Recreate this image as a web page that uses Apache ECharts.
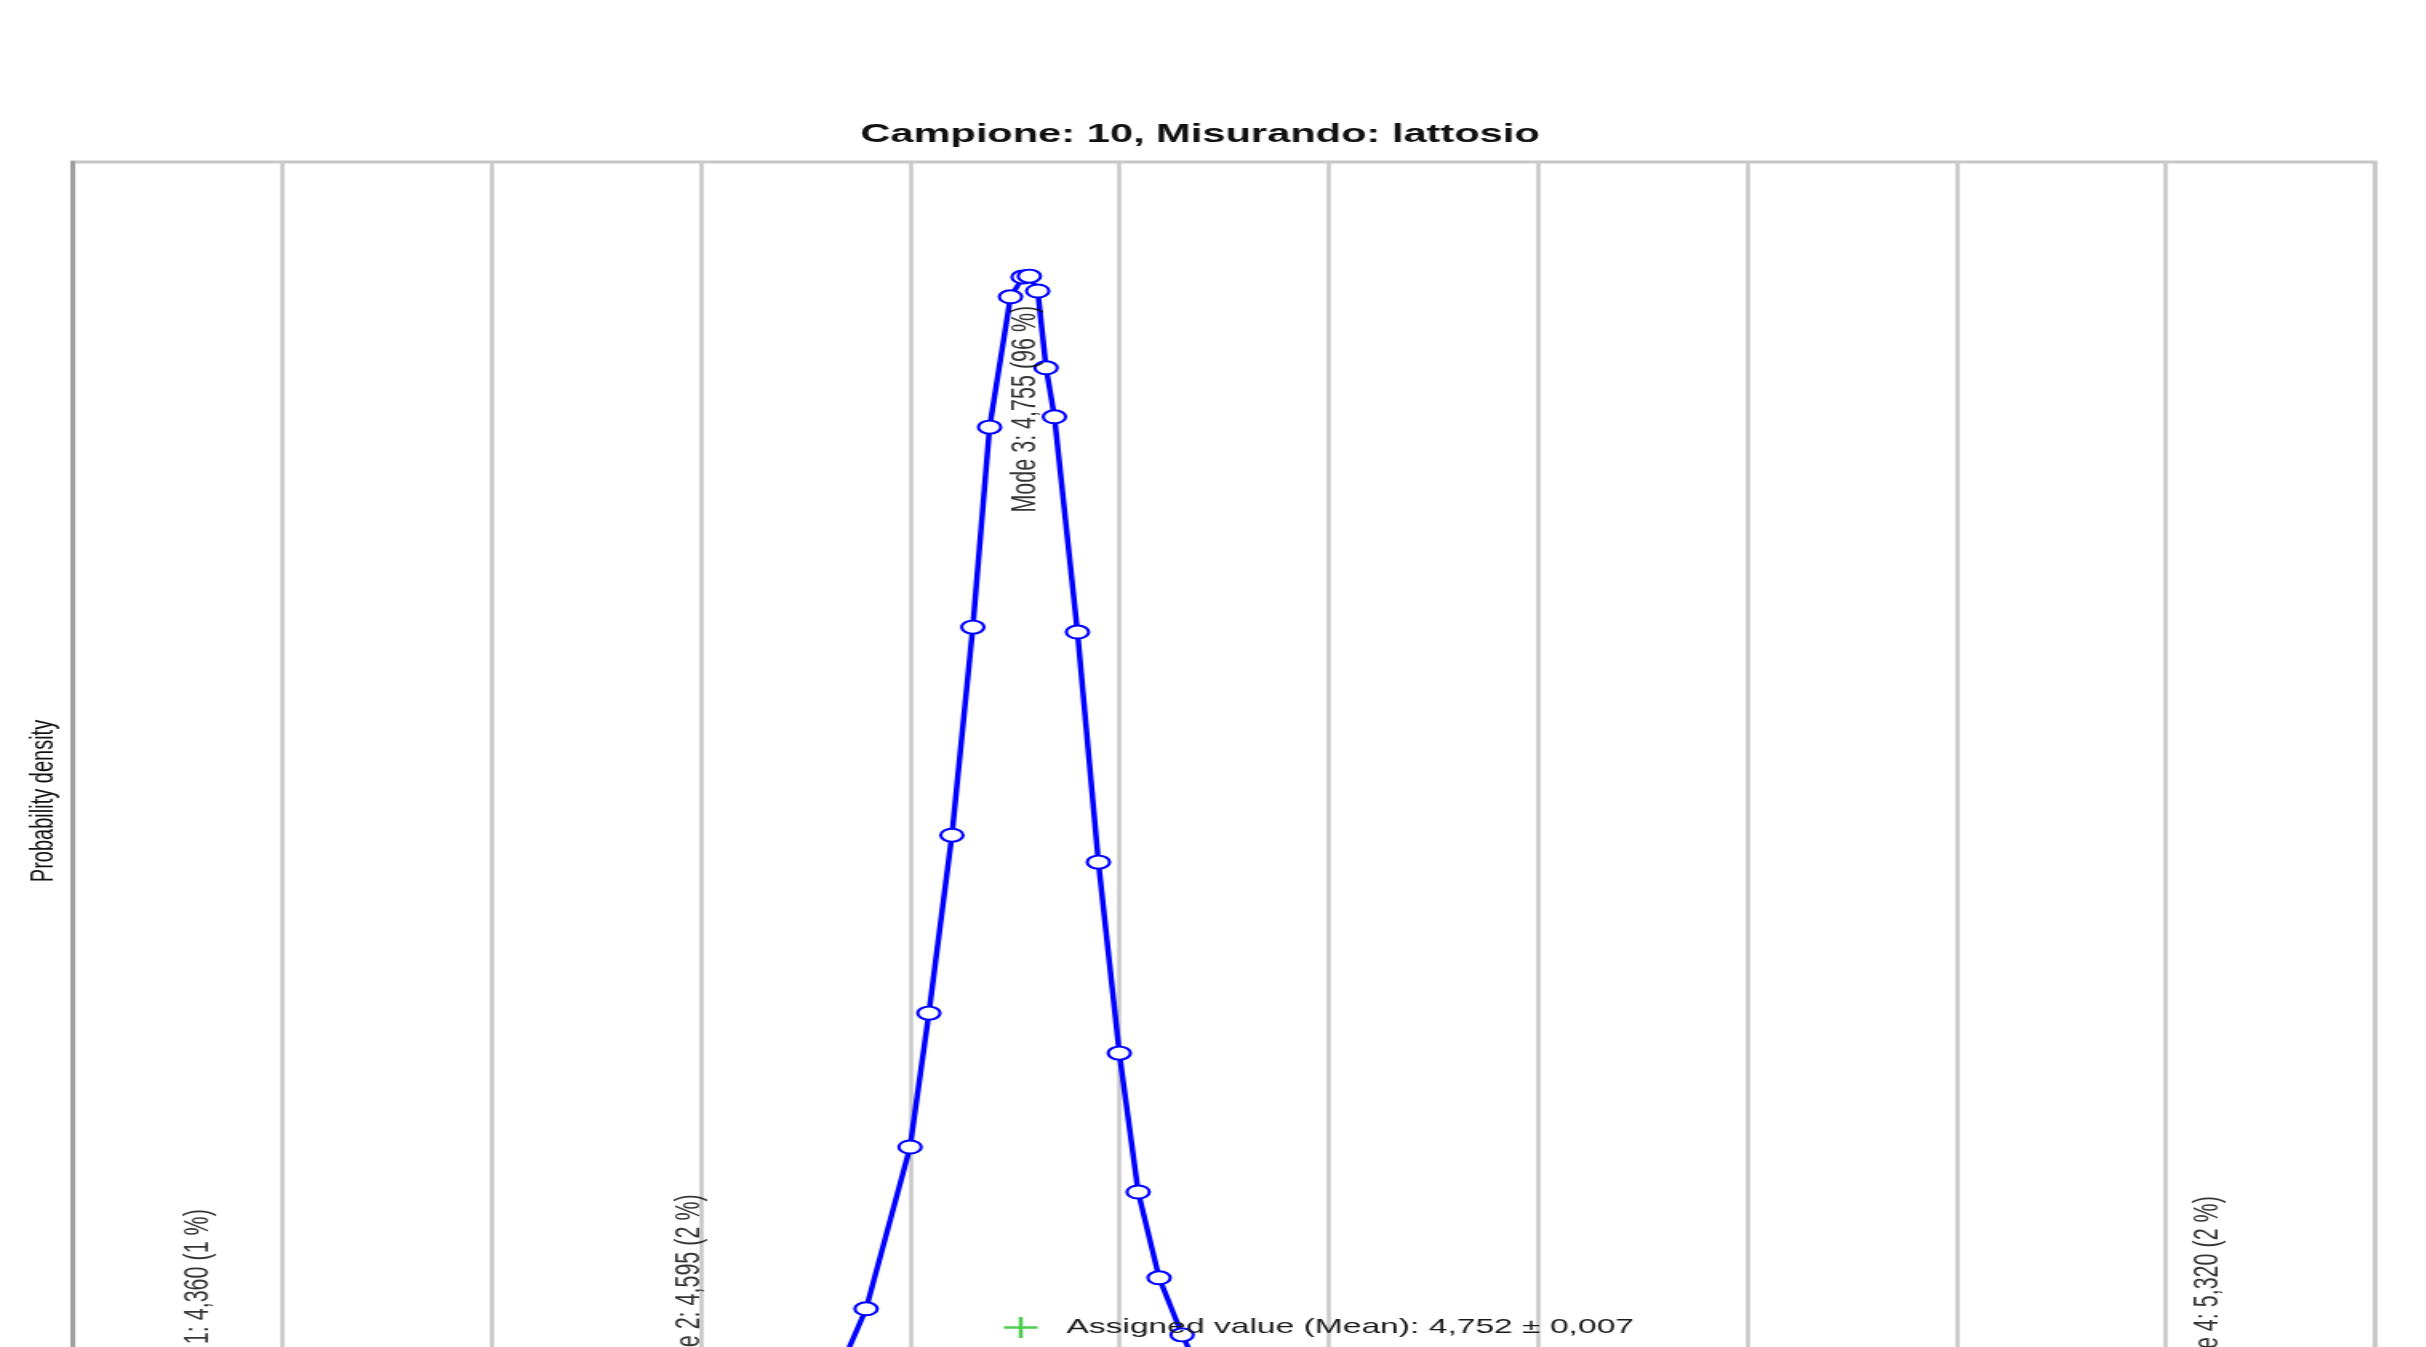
<!DOCTYPE html>
<html>
<head>
<meta charset="utf-8">
<script src="https://cdn.jsdelivr.net/npm/echarts@6/dist/echarts.min.js"></script>
<style>
html,body{margin:0;padding:0;background:#ffffff;overflow:hidden;width:2426px;height:1347px;}
#chart{width:1516.25px;height:1347px;transform:scaleX(1.6);transform-origin:0 0;}
</style>
</head>
<body>
<div id="chart"></div>
<script>
// ---- data ----
const titleText = 'Campione: 10, Misurando: lattosio';
const yAxisName = 'Probability density';
const xMin = 4.3, xMax = 5.4, xInterval = 0.1;

// density curve (x = measured value, y = probability density, arbitrary units)
const curveX = [4.660, 4.679, 4.700, 4.709, 4.720, 4.730, 4.738, 4.748, 4.754, 4.757, 4.761, 4.765, 4.769, 4.780, 4.790, 4.800, 4.809, 4.819, 4.830, 4.845];
const curveY = [4.45, 6.48, 10.08, 13.06, 17.02, 21.65, 26.10, 29.00, 29.44, 29.46, 29.13, 27.42, 26.33, 21.54, 16.42, 12.17, 9.08, 7.17, 5.90, 4.45];

// modes
const modeNames  = ['Mode 1', 'Mode 2', 'Mode 3', 'Mode 4'];
const modeValues = [4.360, 4.595, 4.755, 5.320];
const modeShares = [1, 2, 96, 2];
const modeLabelLevel = [6.53, 6.86, 26.5, 6.82];

// assigned value
const assignedValue = 4.752;
const assignedUnc = 0.007;

// ---- build chart ----
const fmt = (v, d) => v.toFixed(d).replace('.', ',');
const FONT = "'Liberation Sans', Arial, sans-serif";
const assignedName = 'Assigned value (Mean): ' + fmt(assignedValue, 3) + ' \u00B1 ' + fmt(assignedUnc, 3);
const plusPath = 'path://M4.4,0 L5.6,0 L5.6,4.4 L10,4.4 L10,5.6 L5.6,5.6 L5.6,10 L4.4,10 L4.4,5.6 L0,5.6 L0,4.4 L4.4,4.4 Z';

const curveData = curveX.map((x, i) => [x, curveY[i]]);
const modeData = modeValues.map((v, i) => ({
  value: [v, modeLabelLevel[i]],
  name: modeNames[i] + ': ' + fmt(v, 3) + ' (' + modeShares[i] + ' %)'
}));

const chart = echarts.init(document.getElementById('chart'), null, {renderer: 'canvas'});
chart.setOption({
  animation: false,
  backgroundColor: '#ffffff',
  title: {
    text: titleText,
    left: 745,
    top: 117,
    textAlign: 'center',
    textStyle: {fontFamily: FONT, fontSize: 26, fontWeight: 'bold', color: '#111111'}
  },
  graphic: [{
    type: 'text',
    x: 27.8,
    y: 801,
    rotation: Math.PI / 2,
    style: {text: yAxisName, fontFamily: FONT, fontSize: 20, fill: '#111111', align: 'center', verticalAlign: 'middle'}
  }],
  legend: {
    data: [assignedName],
    left: 622.5,
    top: 1312,
    itemWidth: 21,
    itemHeight: 26,
    icon: plusPath,
    textStyle: {fontFamily: FONT, fontSize: 21, color: '#1a1a1a', padding: [0, 0, 0, 13]}
  },
  grid: {
    left: 45.625,
    top: 162,
    width: 1438.75,
    height: 1438,
    outerBoundsMode: 'none',
    containLabel: false,
    show: true,
    borderColor: '#c8c8c8',
    borderWidth: 3,
    backgroundColor: 'transparent'
  },
  xAxis: {
    type: 'value',
    min: xMin,
    max: xMax,
    interval: xInterval,
    axisLine: {show: false},
    axisTick: {show: false},
    axisLabel: {show: false},
    splitLine: {show: true, lineStyle: {color: '#c8c8c8', width: 2.5}}
  },
  yAxis: {
    type: 'value',
    min: 0,
    max: 32,
    axisLine: {show: true, lineStyle: {color: '#a0a0a0', width: 3}},
    axisTick: {show: false},
    axisLabel: {show: false},
    splitLine: {show: false}
  },
  series: [
    {
      type: 'line',
      name: 'density',
      data: curveData,
      symbol: 'emptyCircle',
      symbolSize: [14, 13],
      lineStyle: {color: '#0000ff', width: 3.5},
      itemStyle: {color: '#0000ff', borderColor: '#0000ff', borderWidth: 3.5},
      z: 3
    },
    {
      type: 'scatter',
      name: 'modes',
      data: modeData,
      symbolSize: 0,
      silent: true,
      label: {
        show: true,
        position: 'inside',
        rotate: 90,
        formatter: p => p.name,
        fontFamily: FONT,
        fontSize: 21.5,
        color: '#000000'
      },
      z: 4
    },
    {
      type: 'scatter',
      name: assignedName,
      data: [[assignedValue, 0]],
      symbol: plusPath,
      symbolSize: [20, 24],
      itemStyle: {color: '#22c022'}
    }
  ]
});
</script>
</body>
</html>
